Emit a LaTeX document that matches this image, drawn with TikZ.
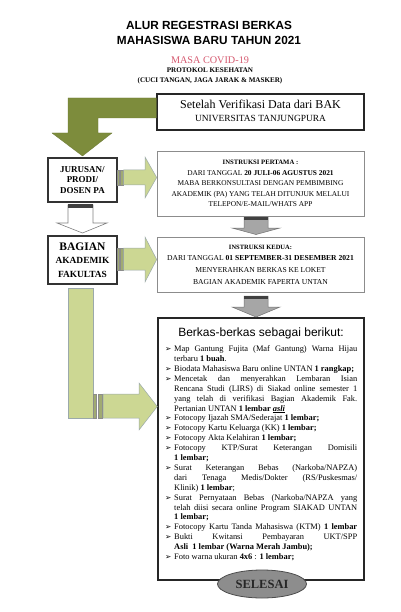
\documentclass[tikz,border=0pt]{standalone}
\usepackage{fontspec}
\setmainfont{Liberation Serif}
\newfontfamily\arialf{Liberation Sans}
\newfontfamily\dejaf{DejaVu Sans}
\usetikzlibrary{calc,shapes.geometric}
\definecolor{olivefill}{HTML}{7D8C3C}
\definecolor{lgreen}{HTML}{CCD793}
\definecolor{gedge}{HTML}{9BA9AB}
\definecolor{stripecol}{HTML}{A0AA72}
\definecolor{covidred}{HTML}{D65A70}
\definecolor{garrow}{HTML}{A6A6A6}
\definecolor{selgray}{HTML}{8D8D8D}
\newlength\itw \setlength\itw{183pt}
\newcommand\jl[1]{\makebox[\itw][s]{#1}}
\newcommand\bl{\makebox[9pt][l]{\dejaf\fontsize{7.6}{8}\selectfont ➢}}
\newcommand\il{\hspace*{9pt}}
\tikzset{
  box/.style={draw, rectangle, inner sep=0pt, align=center},
  thickbox/.style={box, line width=1.5pt, draw=black!85},
  midbox/.style={box, line width=1.2pt, draw=black!80},
  thinbox/.style={box, line width=0.6pt, draw=black!45},
  olivearrow/.style={fill=olivefill, draw=olivefill!85!black, line width=0.3pt},
  greenarrow/.style={fill=lgreen, draw=gedge, line width=0.5pt},
  stripebar/.style={fill=stripecol, draw=black!45, line width=0.3pt},
  grayarrow/.style={fill=garrow, draw=black!55, line width=0.5pt},
  whitearrow/.style={fill=white, draw=black!50, line width=0.6pt},
  topbar/.style={fill=black!75, draw=none},
  txt/.style={inner sep=0pt, align=center},
}
\begin{document}
\begin{tikzpicture}[x=1pt,y=-1pt]
\useasboundingbox (0,0) rectangle (400,612);
\fill[white] (0,0) rectangle (400,612);

% titles
\node[txt, font=\arialf\bfseries\fontsize{11.8}{15}\selectfont] (title) at (209,32.5) {ALUR REGESTRASI BERKAS\\MAHASISWA BARU TAHUN 2021};
\node[txt, font=\fontsize{10.2}{12}\selectfont, text=covidred] (covid) at (210,60) {MASA COVID-19};
\node[txt, font=\bfseries\fontsize{7.1}{10}\selectfont] (prot) at (210,76) {PROTOKOL KESEHATAN\\(CUCI TANGAN, JAGA JARAK \& MASKER)};

% boxes
\node[thickbox, minimum width=207pt, minimum height=36pt] (bak) at (260.5,112) {};
\node[txt, anchor=base, font=\fontsize{12}{13}\selectfont] (bak1) at (260.5,109) {Setelah Verifikasi Data dari BAK};
\node[txt, anchor=base, font=\fontsize{9.4}{11}\selectfont] (bak2) at (260.5,121.5) {UNIVERSITAS TANJUNGPURA};

\node[midbox, minimum width=69pt, minimum height=44pt, font=\bfseries\fontsize{9}{10.5}\selectfont] (jur) at (82.5,180) {JURUSAN/\\PRODI/\\DOSEN PA};

\node[thinbox, minimum width=207pt, minimum height=65pt, font=\fontsize{7.4}{10.5}\selectfont] (pert) at (260.5,183.5) {{\bfseries\fontsize{6.7}{10.5}\selectfont INSTRUKSI PERTAMA :}\\
DARI TANGGAL \textbf{20 JULI-06 AGUSTUS 2021}\\
MABA BERKONSULTASI DENGAN PEMBIMBING\\
AKADEMIK (PA) YANG TELAH DITUNJUK MELALUI\\
TELEPON/E-MAIL/WHATS APP};

\node[midbox, minimum width=69pt, minimum height=48pt, font=\bfseries\fontsize{9.4}{13.5}\selectfont] (bag) at (82.5,260) {{\fontsize{11.5}{13.5}\selectfont BAGIAN}\\AKADEMIK\\FAKULTAS};

\node[thinbox, minimum width=207pt, minimum height=55pt, font=\fontsize{7.6}{11.6}\selectfont] (ked) at (260.5,264.5) {{\bfseries\fontsize{6.5}{11.6}\selectfont INSTRUKSI KEDUA:}\\
DARI TANGGAL \textbf{01 SEPTEMBER-31 DESEMBER 2021}\\
MENYERAHKAN BERKAS KE LOKET\\
BAGIAN AKADEMIK FAPERTA UNTAN};

\node[thickbox, minimum width=206pt, minimum height=262pt] (berk) at (261,449) {};
\node[txt, font=\arialf\fontsize{12}{14}\selectfont] (berkt) at (261,333) {Berkas-berkas sebagai berikut:};

\node[anchor=north west, inner sep=0pt, align=left, font=\fontsize{8.4}{9.9}\selectfont] (list) at (165,345.5) {%
\bl\jl{Map Gantung Fujita (Maf Gantung) Warna Hijau}\\
\il terbaru \textbf{1 buah}.\\
\bl Biodata Mahasiswa Baru online UNTAN \textbf{1 rangkap;}\\
\bl\jl{Mencetak dan menyerahkan Lembaran Isian}\\
\il\jl{Rencana Studi (LIRS) di Siakad online semester 1}\\
\il\jl{yang telah di verifikasi Bagian Akademik Fak.}\\
\il Pertanian UNTAN \textbf{1 lembar \underline{\textit{asli}}}\\
\bl Fotocopy Ijazah SMA/Sederajat \textbf{1 lembar;}\\
\bl Fotocopy Kartu Keluarga (KK) \textbf{1 lembar;}\\
\bl Fotocopy Akta Kelahiran \textbf{1 lembar;}\\
\bl\jl{Fotocopy KTP/Surat Keterangan Domisili}\\
\il\textbf{1 lembar;}\\
\bl\jl{Surat Keterangan Bebas (Narkoba/NAPZA)}\\
\il\jl{dari Tenaga Medis/Dokter (RS/Puskesmas/}\\
\il Klinik) \textbf{1 lembar};\\
\bl\jl{Surat Pernyataan Bebas (Narkoba/NAPZA yang}\\
\il\jl{telah diisi secara online Program SIAKAD UNTAN}\\
\il\textbf{1 lembar;}\\
\bl\jl{Fotocopy Kartu Tanda Mahasiswa (KTM) \textbf{1 lembar}}\\
\bl\jl{Bukti Kwitansi Pembayaran UKT/SPP}\\
\il\textbf{Asli\ \ 1 lembar (Warna Merah Jambu);}\\
\bl Foto warna ukuran \textbf{4x6} : \textbf{1 lembar;}%
};

\node[ellipse, minimum width=89pt, minimum height=28pt, inner sep=0pt, fill=selgray, draw=black!70, line width=0.8pt, text=black!85, font=\bfseries\fontsize{12.5}{14}\selectfont] (sel) at (262,584) {SELESAI};

% olive bent arrow from bak to jur
\draw[olivearrow] (bak.west |- 0,98) -- (68,98) -- (68,133) -- (52,133) -- (jur.north |- 0,156) -- (112,133) -- (98,133) -- (98,118) -- (bak.west |- 0,118) -- cycle;

% green arrow jur -> pert
\draw[stripebar] (jur.east |- 0,170) rectangle (119.5,185);
\draw[stripebar] (120.5,170) rectangle (123,185);
\draw[greenarrow] (123.5,170) -- (145,170) -- (145,157) -- (pert.west |- 0,177.5) -- (145,198) -- (145,185) -- (123.5,185) -- cycle;

% white arrow jur -> bag
\draw[whitearrow] (68,205) -- (93,205) -- (93,223) -- (107,223) -- (bag.north |- 0,233) -- (57,223) -- (68,223) -- cycle;
\fill[topbar] (68,204.5) rectangle (93,208);

% green arrow bag -> ked
\draw[stripebar] (bag.east |- 0,248) rectangle (119.5,270);
\draw[stripebar] (120.5,248) rectangle (123,270);
\draw[greenarrow] (123.5,248) -- (145,248) -- (145,237) -- (ked.west |- 0,259.5) -- (145,282) -- (145,270) -- (123.5,270) -- cycle;

% gray arrow pert -> ked
\draw[grayarrow] (244,217) -- (268,217) -- (268,228) -- (280,228) -- (256,234.5) -- (232,228) -- (244,228) -- cycle;
\fill[topbar] (244,216.5) rectangle (268,219.5);

% gray arrow ked -> berk
\draw[grayarrow] (244,296) -- (268,296) -- (268,307) -- (280,307) -- (256,317) -- (232,307) -- (244,307) -- cycle;
\fill[topbar] (244,295.5) rectangle (268,298.5);

% long green L arrow bag -> berk
\draw[greenarrow] (68,288) rectangle (93,418);
\draw[stripebar] (93,394) rectangle (96.5,418);
\draw[stripebar] (98,394) rectangle (102.5,418);
\draw[greenarrow] (103,394) -- (139,394) -- (139,383) -- (berk.west |- 0,406.5) -- (139,430) -- (139,418) -- (103,418) -- cycle;

\end{tikzpicture}
\end{document}
